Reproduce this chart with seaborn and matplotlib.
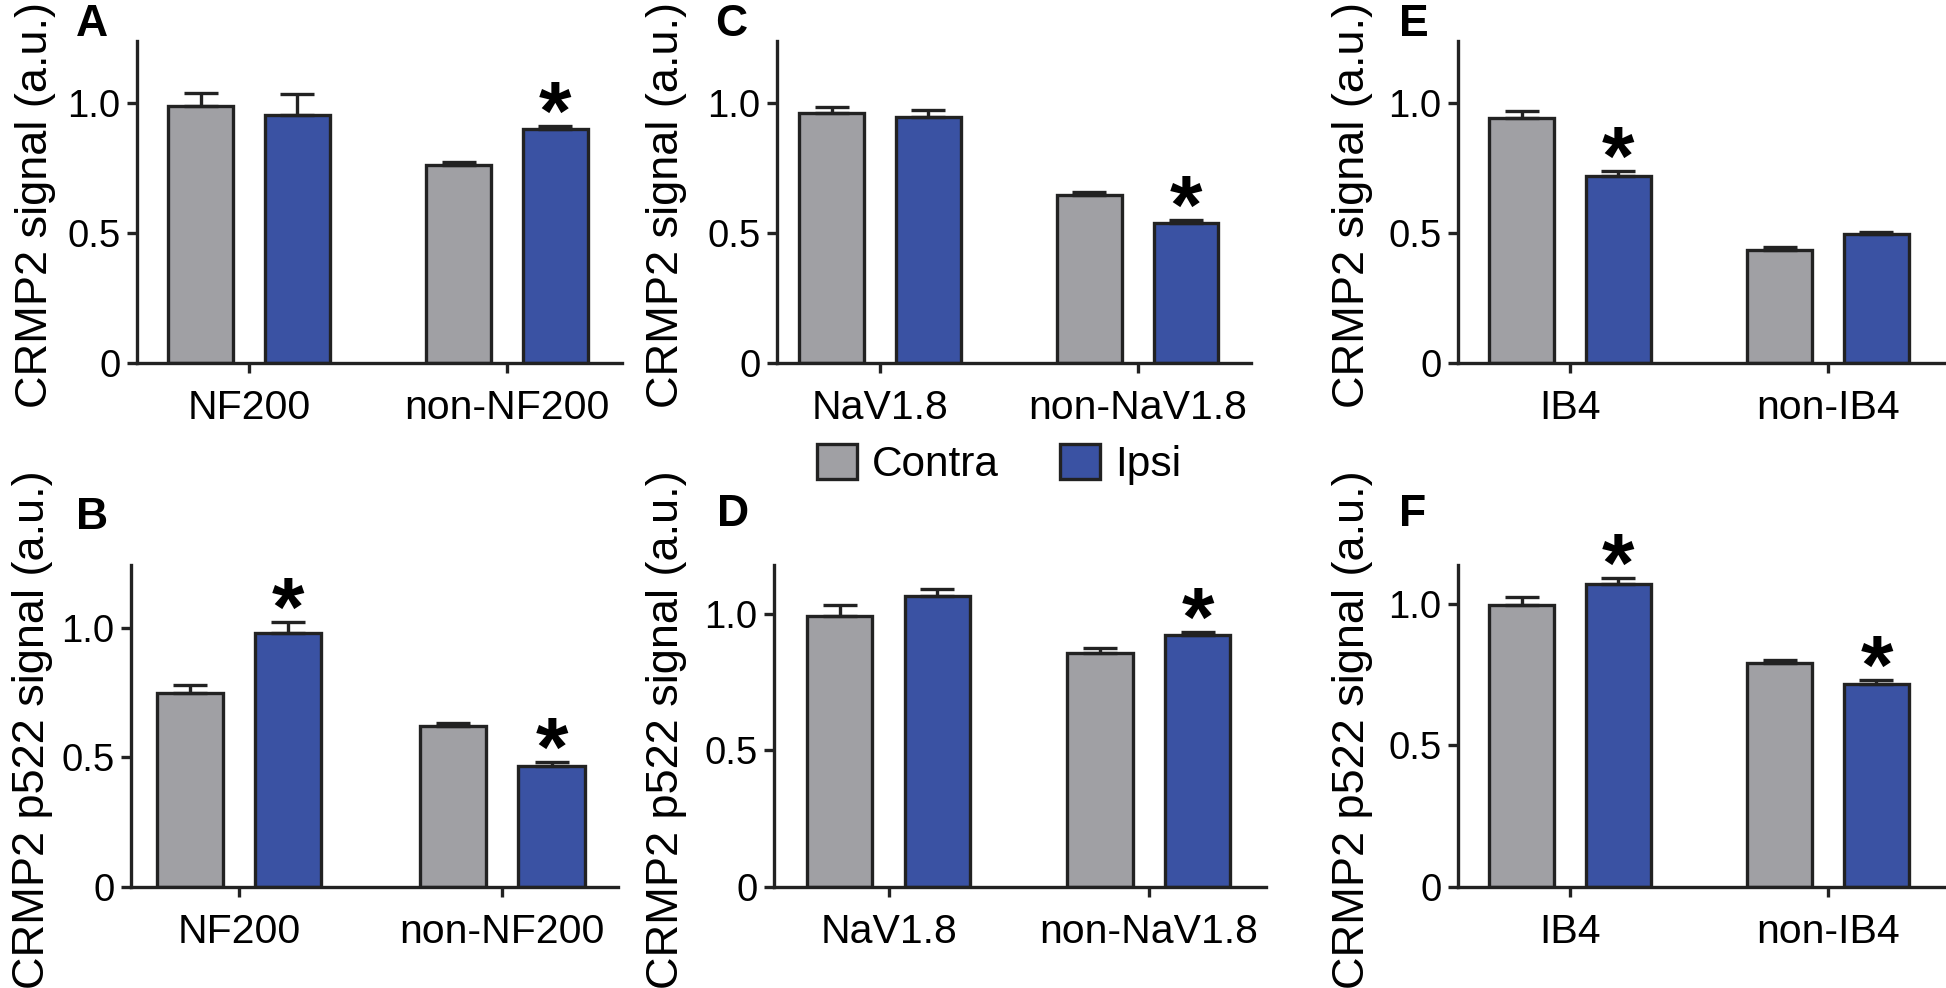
import numpy as np
import pandas as pd
import seaborn as sns
import matplotlib.pyplot as plt
from matplotlib.patches import Patch

# --- data (mean and SEM, rows = cell group, cols = Contra / Ipsi) ---
conditions = ["Contra", "Ipsi"]
colors = ["#a0a0a4", "#3a52a3"]

groups_A = ["NF200", "non-NF200"]
mean_A = [[0.99, 0.955], [0.762, 0.900]]
sem_A = [[0.050, 0.080], [0.012, 0.013]]
star_A = [[0, 0], [0, 1]]

groups_B = ["NF200", "non-NF200"]
mean_B = [[0.750, 0.982], [0.620, 0.468]]
sem_B = [[0.028, 0.040], [0.012, 0.013]]
star_B = [[0, 1], [0, 1]]

groups_C = ["NaV1.8", "non-NaV1.8"]
mean_C = [[0.962, 0.947], [0.646, 0.539]]
sem_C = [[0.025, 0.026], [0.012, 0.010]]
star_C = [[0, 0], [0, 1]]

groups_D = ["NaV1.8", "non-NaV1.8"]
mean_D = [[0.993, 1.064], [0.856, 0.921]]
sem_D = [[0.037, 0.028], [0.017, 0.013]]
star_D = [[0, 0], [0, 1]]

groups_E = ["IB4", "non-IB4"]
mean_E = [[0.945, 0.722], [0.436, 0.497]]
sem_E = [[0.025, 0.017], [0.010, 0.008]]
star_E = [[0, 1], [0, 0]]

groups_F = ["IB4", "non-IB4"]
mean_F = [[0.996, 1.070], [0.789, 0.716]]
sem_F = [[0.026, 0.020], [0.013, 0.013]]
star_F = [[0, 1], [0, 1]]

ylabel_top = "CRMP2 signal (a.u.)"
ylabel_bottom = "CRMP2 p522 signal (a.u.)"

# --- style ---
sns.set_style("ticks")
plt.rcParams["font.family"] = ["Liberation Sans", "DejaVu Sans"]
for key in ["text.color", "axes.labelcolor", "xtick.color", "ytick.color"]:
    plt.rcParams[key] = "black"
edge = "#222222"
lw = 2.4

W, H = 1946, 988
fig = plt.figure(figsize=(W / 100, H / 100), dpi=100)


def px_axes(left, top, width, height):
    return fig.add_axes([left / W, 1 - (top + height) / H, width / W, height / H])


def draw_panel(ax, groups, means, sems, stars, ylabel, ytop, xlim, label_x):
    df = pd.DataFrame({
        "group": np.repeat(groups, 2),
        "condition": conditions * 2,
        "value": np.ravel(means),
    })
    sns.barplot(data=df, x="group", y="value", hue="condition",
                hue_order=conditions, palette=colors, saturation=1,
                errorbar=None, width=0.75, gap=0.33, edgecolor=edge,
                linewidth=lw, legend=False, ax=ax)
    sems = np.asarray(sems)
    stars = np.asarray(stars)
    bar_sets = list(ax.containers)
    for j, bars in enumerate(bar_sets):
        for p in bars:
            xc = p.get_x() + p.get_width() / 2
            i = int(round(xc))
            top = p.get_height()
            e = sems[i, j]
            ax.errorbar([xc], [top], yerr=[[0], [e]], fmt="none", ecolor=edge,
                        elinewidth=lw, capsize=12, capthick=lw, zorder=1)
            if stars[i, j]:
                ax.annotate("*", (xc, top + e), xytext=(0, -10),
                            textcoords="offset points", ha="center",
                            va="baseline", fontsize=60, fontweight="bold",
                            color="black")
    ax.set_xlim(*xlim)
    ax.set_ylim(0, ytop)
    ax.set_yticks([0, 0.5, 1.0])
    ax.set_yticklabels(["0", "0.5", "1.0"])
    ax.set_xlabel("")
    ax.set_ylabel(ylabel, fontsize=32.5)
    ax.yaxis.set_label_coords(label_x, 0.49)
    ax.yaxis.label.set_va("baseline")
    sns.despine(ax=ax)
    for s in ["left", "bottom"]:
        ax.spines[s].set_linewidth(lw)
        ax.spines[s].set_color(edge)
    ax.tick_params(axis="both", width=lw, length=7, color=edge)
    ax.tick_params(axis="y", labelsize=27.5, pad=5)
    ax.tick_params(axis="x", labelsize=29.5, pad=12)


# row 1
axA = px_axes(137, 41, 485, 322)
draw_panel(axA, groups_A, mean_A, sem_A, star_A, ylabel_top, 1.24,
           (-0.434, 1.446), (47 - 137) / 485)
axC = px_axes(777, 41, 474, 322)
draw_panel(axC, groups_C, mean_C, sem_C, star_C, ylabel_top, 1.24,
           (-0.40, 1.44), (678 - 777) / 474)
axE = px_axes(1458, 41, 488, 322)
draw_panel(axE, groups_E, mean_E, sem_E, star_E, ylabel_top, 1.24,
           (-0.434, 1.457), (1364 - 1458) / 488)

# row 2
axB = px_axes(131, 565, 487, 322)
draw_panel(axB, groups_B, mean_B, sem_B, star_B, ylabel_bottom, 1.243,
           (-0.41, 1.44), (44 - 131) / 487)
axD = px_axes(774, 565, 492, 322)
draw_panel(axD, groups_D, mean_D, sem_D, star_D, ylabel_bottom, 1.178,
           (-0.44, 1.45), (678 - 774) / 492)
axF = px_axes(1458, 565, 488, 322)
draw_panel(axF, groups_F, mean_F, sem_F, star_F, ylabel_bottom, 1.136,
           (-0.434, 1.457), (1364 - 1458) / 488)

# panel letters
for letter, (x, y) in zip("ACEBDF", [(76, 4), (715, 4), (1399, 4),
                                     (76, 497), (717, 494), (1399, 494)]):
    fig.text(x / W, 1 - y / H, letter, fontsize=32, fontweight="bold",
             ha="left", va="top")

# legend
handles = [Patch(facecolor=c, edgecolor=edge, linewidth=lw) for c in colors]
fig.legend(handles, conditions, loc="center left",
           bbox_to_anchor=(817 / W, 1 - 464.5 / H), ncol=2, frameon=False,
           fontsize=30.5, handlelength=0.94, handleheight=0.92,
           handletextpad=0.36, columnspacing=1.45, borderpad=0,
           borderaxespad=0)

fig.savefig("out.png", dpi=100)
